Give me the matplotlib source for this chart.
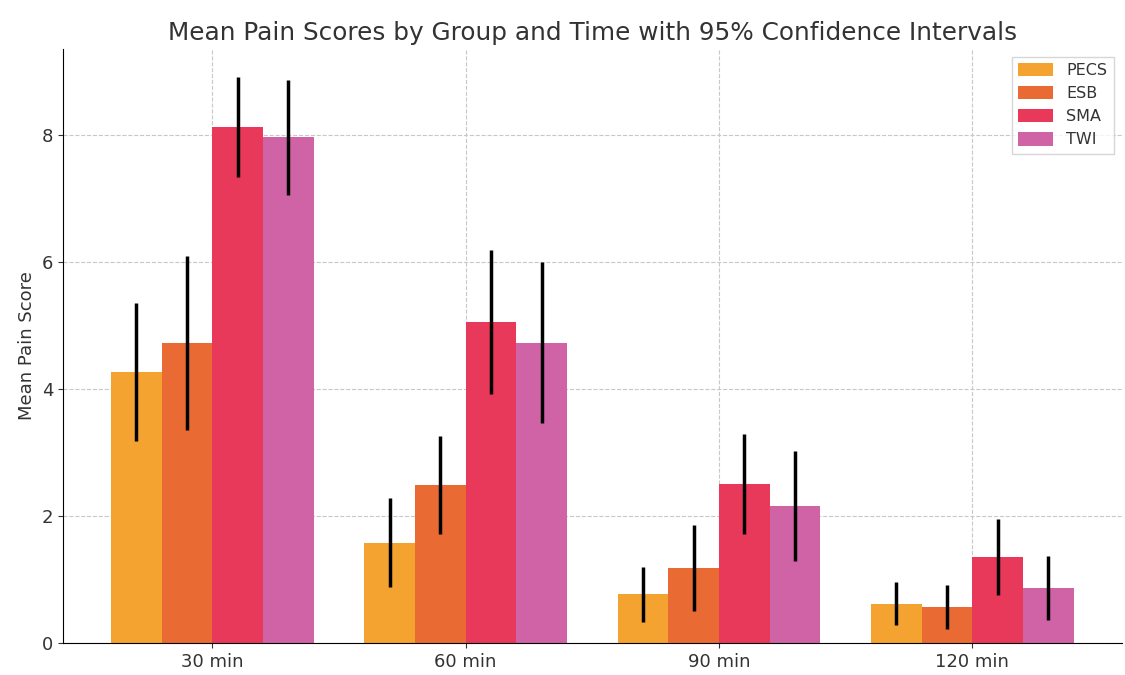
import numpy as np
import matplotlib.pyplot as plt

times = ['30 min', '60 min', '90 min', '120 min']
groups = ['PECS', 'ESB', 'SMA', 'TWI']
colors = ['#F4A330', '#E96A33', '#E8395A', '#D063A5']

means = {
    'PECS': [4.27, 1.58, 0.77, 0.62],
    'ESB': [4.73, 2.49, 1.18, 0.57],
    'SMA': [8.12, 5.05, 2.51, 1.36],
    'TWI': [7.96, 4.73, 2.16, 0.87],
}
ci = {
    'PECS': [1.08, 0.70, 0.43, 0.34],
    'ESB': [1.37, 0.77, 0.68, 0.34],
    'SMA': [0.79, 1.13, 0.79, 0.60],
    'TWI': [0.90, 1.27, 0.86, 0.50],
}

plt.rcParams['text.color'] = '#333333'
plt.rcParams['axes.labelcolor'] = '#333333'
plt.rcParams['xtick.color'] = '#333333'
plt.rcParams['ytick.color'] = '#333333'

fig, ax = plt.subplots(figsize=(11.25, 6.75), dpi=100)
x = np.arange(len(times))
width = 0.2

for i, g in enumerate(groups):
    ax.bar(x + (i - 1.5) * width, means[g], width, yerr=ci[g], color=colors[i],
           label=g, error_kw=dict(ecolor='black', elinewidth=2.5, capsize=0), zorder=2)

ax.set_xticks(x)
ax.set_xticklabels(times, fontsize=13)
ax.tick_params(axis='y', labelsize=13)
ax.set_ylabel('Mean Pain Score', fontsize=13)
ax.set_title('Mean Pain Scores by Group and Time with 95% Confidence Intervals', fontsize=17.8)
ax.grid(True, linestyle='--', color='#c8c8c8', linewidth=0.8, zorder=0)
ax.set_axisbelow(True)
ax.spines['top'].set_visible(False)
ax.spines['right'].set_visible(False)
ax.legend(loc='upper right', fontsize=11.5, handlelength=2.2, handleheight=0.9, fancybox=False)

plt.subplots_adjust(left=0.056, right=0.997, top=0.928, bottom=0.047)
plt.savefig('out.png')
